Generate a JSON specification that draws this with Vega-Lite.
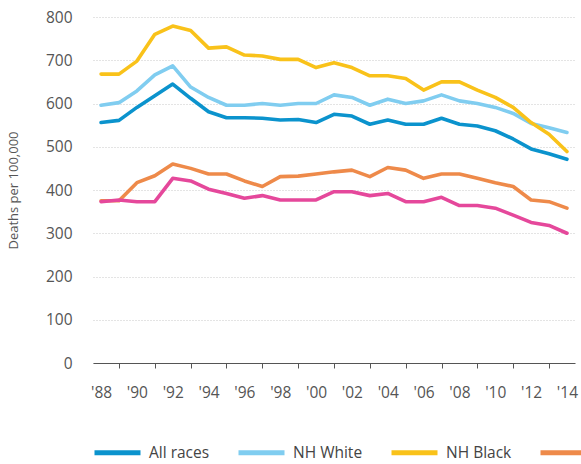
{
  "$schema": "https://vega.github.io/schema/vega-lite/v6.json",
  "width": 482,
  "height": 346,
  "autosize": "none",
  "padding": {"left": 93, "top": 17, "right": 6, "bottom": 101},
  "background": "white",
  "config": {
    "font": "Open Sans",
    "view": {"stroke": null}
  },
  "data": {
    "values": [
      {"year":1988,"group":"All races","value":556},{"year":1989,"group":"All races","value":561},{"year":1990,"group":"All races","value":591},{"year":1991,"group":"All races","value":618},{"year":1992,"group":"All races","value":645},{"year":1993,"group":"All races","value":612},{"year":1994,"group":"All races","value":581},{"year":1995,"group":"All races","value":567},{"year":1996,"group":"All races","value":567},{"year":1997,"group":"All races","value":566},{"year":1998,"group":"All races","value":562},{"year":1999,"group":"All races","value":563},{"year":2000,"group":"All races","value":556},{"year":2001,"group":"All races","value":575},{"year":2002,"group":"All races","value":571},{"year":2003,"group":"All races","value":552},{"year":2004,"group":"All races","value":562},{"year":2005,"group":"All races","value":552},{"year":2006,"group":"All races","value":552},{"year":2007,"group":"All races","value":566},{"year":2008,"group":"All races","value":552},{"year":2009,"group":"All races","value":548},{"year":2010,"group":"All races","value":537},{"year":2011,"group":"All races","value":518},{"year":2012,"group":"All races","value":495},{"year":2013,"group":"All races","value":484},{"year":2014,"group":"All races","value":471},
      {"year":1988,"group":"NH White","value":596},{"year":1989,"group":"NH White","value":602},{"year":1990,"group":"NH White","value":629},{"year":1991,"group":"NH White","value":666},{"year":1992,"group":"NH White","value":687},{"year":1993,"group":"NH White","value":638},{"year":1994,"group":"NH White","value":614},{"year":1995,"group":"NH White","value":596},{"year":1996,"group":"NH White","value":596},{"year":1997,"group":"NH White","value":600},{"year":1998,"group":"NH White","value":596},{"year":1999,"group":"NH White","value":600},{"year":2000,"group":"NH White","value":600},{"year":2001,"group":"NH White","value":620},{"year":2002,"group":"NH White","value":614},{"year":2003,"group":"NH White","value":596},{"year":2004,"group":"NH White","value":610},{"year":2005,"group":"NH White","value":600},{"year":2006,"group":"NH White","value":606},{"year":2007,"group":"NH White","value":620},{"year":2008,"group":"NH White","value":606},{"year":2009,"group":"NH White","value":600},{"year":2010,"group":"NH White","value":591},{"year":2011,"group":"NH White","value":577},{"year":2012,"group":"NH White","value":554},{"year":2013,"group":"NH White","value":544},{"year":2014,"group":"NH White","value":533},
      {"year":1988,"group":"NH Black","value":668},{"year":1989,"group":"NH Black","value":668},{"year":1990,"group":"NH Black","value":698},{"year":1991,"group":"NH Black","value":760},{"year":1992,"group":"NH Black","value":779},{"year":1993,"group":"NH Black","value":769},{"year":1994,"group":"NH Black","value":728},{"year":1995,"group":"NH Black","value":731},{"year":1996,"group":"NH Black","value":712},{"year":1997,"group":"NH Black","value":710},{"year":1998,"group":"NH Black","value":702},{"year":1999,"group":"NH Black","value":702},{"year":2000,"group":"NH Black","value":683},{"year":2001,"group":"NH Black","value":694},{"year":2002,"group":"NH Black","value":683},{"year":2003,"group":"NH Black","value":664},{"year":2004,"group":"NH Black","value":664},{"year":2005,"group":"NH Black","value":658},{"year":2006,"group":"NH Black","value":631},{"year":2007,"group":"NH Black","value":650},{"year":2008,"group":"NH Black","value":650},{"year":2009,"group":"NH Black","value":631},{"year":2010,"group":"NH Black","value":614},{"year":2011,"group":"NH Black","value":591},{"year":2012,"group":"NH Black","value":556},{"year":2013,"group":"NH Black","value":529},{"year":2014,"group":"NH Black","value":489},
      {"year":1988,"group":"Hispanic","value":375},{"year":1989,"group":"Hispanic","value":375},{"year":1990,"group":"Hispanic","value":417},{"year":1991,"group":"Hispanic","value":433},{"year":1992,"group":"Hispanic","value":460},{"year":1993,"group":"Hispanic","value":450},{"year":1994,"group":"Hispanic","value":437},{"year":1995,"group":"Hispanic","value":437},{"year":1996,"group":"Hispanic","value":421},{"year":1997,"group":"Hispanic","value":408},{"year":1998,"group":"Hispanic","value":431},{"year":1999,"group":"Hispanic","value":432},{"year":2000,"group":"Hispanic","value":437},{"year":2001,"group":"Hispanic","value":442},{"year":2002,"group":"Hispanic","value":446},{"year":2003,"group":"Hispanic","value":431},{"year":2004,"group":"Hispanic","value":452},{"year":2005,"group":"Hispanic","value":446},{"year":2006,"group":"Hispanic","value":427},{"year":2007,"group":"Hispanic","value":437},{"year":2008,"group":"Hispanic","value":437},{"year":2009,"group":"Hispanic","value":427},{"year":2010,"group":"Hispanic","value":417},{"year":2011,"group":"Hispanic","value":408},{"year":2012,"group":"Hispanic","value":377},{"year":2013,"group":"Hispanic","value":373},{"year":2014,"group":"Hispanic","value":358},
      {"year":1988,"group":"NH API","value":373},{"year":1989,"group":"NH API","value":377},{"year":1990,"group":"NH API","value":373},{"year":1991,"group":"NH API","value":373},{"year":1992,"group":"NH API","value":427},{"year":1993,"group":"NH API","value":421},{"year":1994,"group":"NH API","value":402},{"year":1995,"group":"NH API","value":392},{"year":1996,"group":"NH API","value":381},{"year":1997,"group":"NH API","value":387},{"year":1998,"group":"NH API","value":377},{"year":1999,"group":"NH API","value":377},{"year":2000,"group":"NH API","value":377},{"year":2001,"group":"NH API","value":396},{"year":2002,"group":"NH API","value":396},{"year":2003,"group":"NH API","value":387},{"year":2004,"group":"NH API","value":392},{"year":2005,"group":"NH API","value":373},{"year":2006,"group":"NH API","value":373},{"year":2007,"group":"NH API","value":383},{"year":2008,"group":"NH API","value":364},{"year":2009,"group":"NH API","value":364},{"year":2010,"group":"NH API","value":358},{"year":2011,"group":"NH API","value":342},{"year":2012,"group":"NH API","value":325},{"year":2013,"group":"NH API","value":318},{"year":2014,"group":"NH API","value":300}
    ]
  },
  "mark": {"type": "line", "strokeWidth": 3.6, "strokeJoin": "round", "strokeCap": "round"},
  "encoding": {
    "x": {
      "field": "year",
      "type": "quantitative",
      "scale": {"domain": [1987.55, 2014.45], "nice": false, "zero": false},
      "axis": {
        "title": null,
        "values": [1988,1990,1992,1994,1996,1998,2000,2002,2004,2006,2008,2010,2012,2014],
        "labelExpr": "\"'\" + substring(toString(datum.value), 2)",
        "grid": false,
        "domainColor": "#555",
        "domainWidth": 1,
        "tickColor": "#555",
        "tickSize": 5,
        "tickOffset": 17.92,
        "labelOffset": -17.92,
        "labelPadding": 17,
        "labelFontSize": 15.5,
        "labelColor": "#555",
        "labelFlush": false,
        "labelOverlap": false
      }
    },
    "y": {
      "field": "value",
      "type": "quantitative",
      "scale": {"domain": [0, 800], "nice": false},
      "axis": {
        "title": "Deaths per 100,000",
        "titleFontSize": 13,
        "titleFontWeight": "normal",
        "titleColor": "#555",
        "titlePadding": 25,
        "values": [0,100,200,300,400,500,600,700,800],
        "domain": false,
        "ticks": false,
        "labelPadding": 21,
        "labelFontSize": 15.5,
        "labelColor": "#555",
        "gridColor": "#c8c8c8",
        "gridDash": [1, 2],
        "gridWidth": 1
      }
    },
    "color": {
      "field": "group",
      "type": "nominal",
      "scale": {
        "domain": ["All races", "NH White", "NH Black", "Hispanic", "NH API"],
        "range": ["#0b93cd", "#80cdf0", "#f9c21a", "#ee8a4a", "#e5489b"]
      },
      "legend": {
        "title": null,
        "orient": "none",
        "direction": "horizontal",
        "legendX": -1,
        "legendY": 410,
        "symbolType": "stroke",
        "symbolStrokeWidth": 5,
        "symbolSize": 2116,
        "labelFontSize": 15.5,
        "labelColor": "#444",
        "labelOffset": 6,
        "columnPadding": 18
      }
    }
  }
}
